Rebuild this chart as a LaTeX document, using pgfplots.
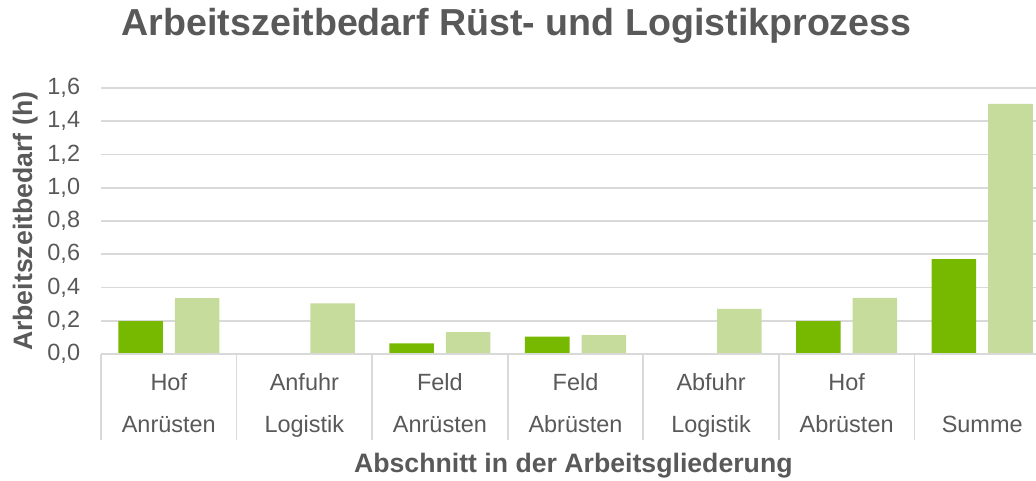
\documentclass[border=0pt]{standalone}
\usepackage{pgfplots}
\pgfplotsset{compat=1.18}
\usepackage{fontspec}
\setmainfont{Liberation Sans}
\definecolor{txt}{HTML}{595959}
\definecolor{gridc}{HTML}{D9D9D9}
\definecolor{dgreen}{HTML}{77B900}
\definecolor{lgreen}{HTML}{C6DC9C}
\begin{document}
\begin{tikzpicture}
\begin{axis}[
  at={(75.75pt,-265.5pt)}, anchor=south west,
  scale only axis, width=711.75pt, height=199.5pt,
  xmin=-0.5, xmax=6.5, ymin=0, ymax=1.6,
  ybar=9pt, bar width=33.4pt,
  axis line style={draw=none},
  ymajorgrids, grid style={gridc, line width=1.2pt},
  major tick length=0pt,
  ytick={0,0.2,0.4,0.6,0.8,1.0,1.2,1.4,1.6},
  yticklabel style={anchor=east, inner sep=0pt, xshift=-15.5pt, text=txt,
    font=\fontsize{17.6pt}{20pt}\selectfont,
    /pgf/number format/use comma, /pgf/number format/fixed,
    /pgf/number format/fixed zerofill, /pgf/number format/precision=1,
    /pgf/number format/assume math mode=true},
  xtick={0,1,2,3,4,5,6},
  xticklabels={{Hof\\Anrüsten},{Anfuhr\\Logistik},{Feld\\Anrüsten},{Feld\\Abrüsten},{Abfuhr\\Logistik},{Hof\\Abrüsten},{\phantom{Hof}\\Summe}},
  xticklabel style={anchor=north, align=center, inner sep=0pt, yshift=-14.5pt, text=txt,
    font=\fontsize{17.6pt}{31.5pt}\selectfont},
  clip=false,
]
\addplot[fill=dgreen, draw=none] coordinates {(0,0.197) (2,0.064) (3,0.104) (5,0.197) (6,0.570)};
\addplot[fill=lgreen, draw=none] coordinates {(0,0.336) (1,0.305) (2,0.132) (3,0.114) (4,0.271) (5,0.337) (6,1.504)};
\draw[gridc, line width=1.2pt] (axis cs:-0.5,0) -- (axis cs:6.5,0);
\pgfplotsinvokeforeach{-0.5,0.5,1.5,2.5,3.5,4.5,5.5,6.5}{
  \draw[gridc, line width=1.2pt] (axis cs:#1,0) -- ++(0pt,-64.5pt);
}
\end{axis}
\node[anchor=base, text=txt, font=\bfseries\fontsize{28.2pt}{34pt}\selectfont] at (387.5pt,-27pt) {Arbeitszeitbedarf Rüst- und Logistikprozess};
\node[rotate=90, text=txt, font=\bfseries\fontsize{20pt}{24pt}\selectfont] at (19pt,-166pt) {Arbeitszeitbedarf (h)};
\node[anchor=base, text=txt, font=\bfseries\fontsize{20pt}{24pt}\selectfont] at (430pt,-354pt) {Abschnitt in der Arbeitsgliederung};
\pgfresetboundingbox
\useasboundingbox (0,0) rectangle (777pt,-360.75pt);
\end{tikzpicture}
\end{document}
